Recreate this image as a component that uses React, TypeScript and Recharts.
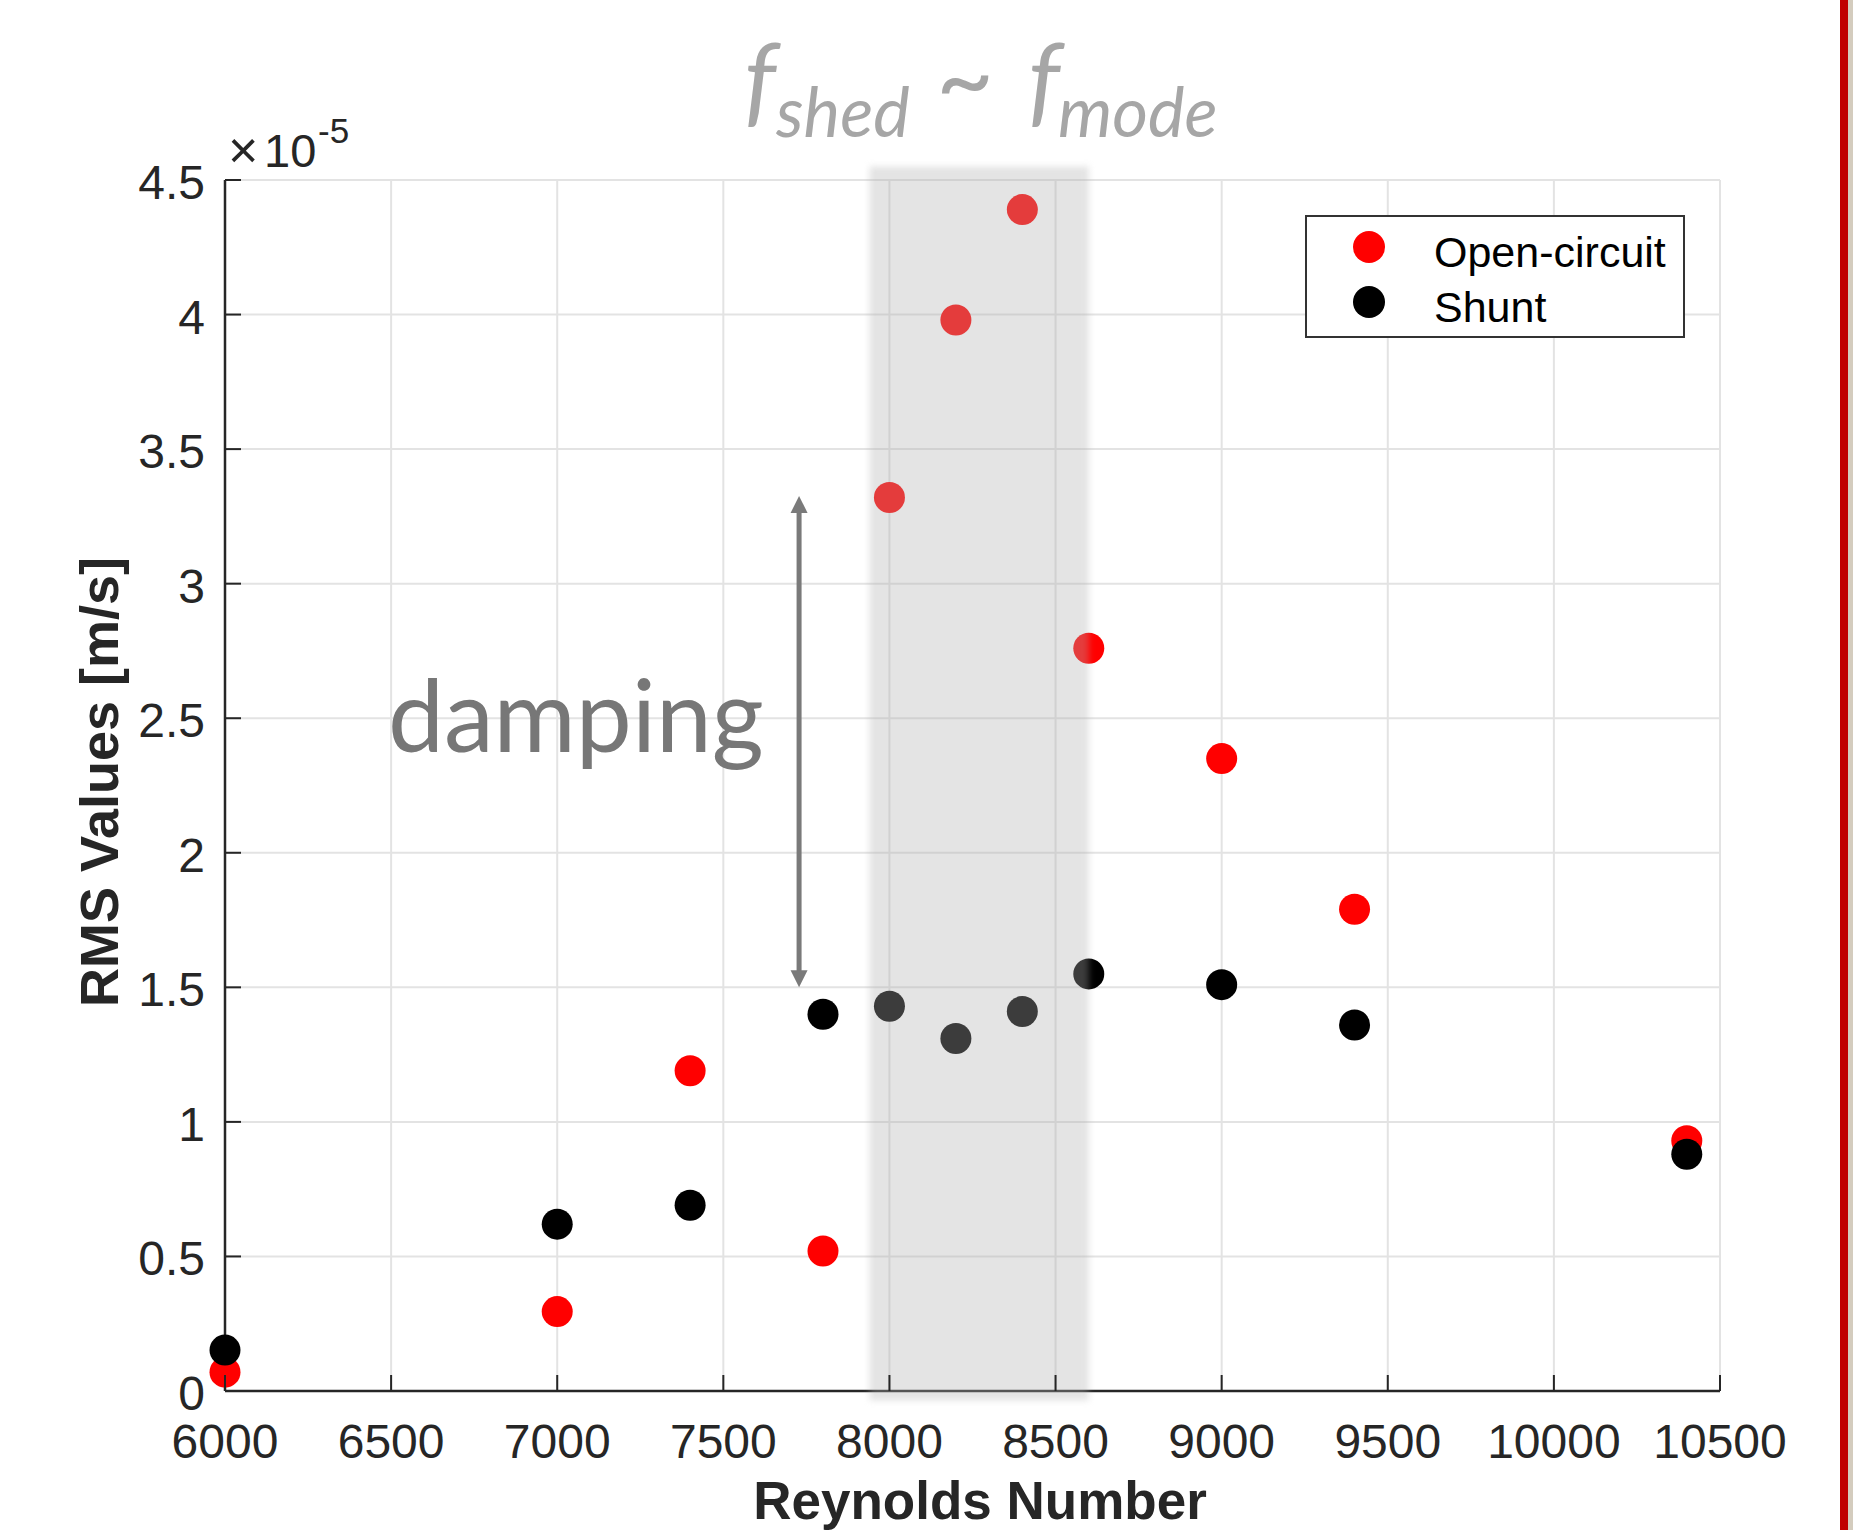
import React from "react";
import {
  ScatterChart,
  Scatter,
  XAxis,
  YAxis,
  CartesianGrid,
  ReferenceArea,
  ReferenceLine,
  ReferenceDot,
  Legend,
  Customized,
} from "recharts";

// Reynolds numbers of the measurements
const reynolds = [6000, 7000, 7400, 7800, 8000, 8200, 8400, 8600, 9000, 9400, 10400];
// RMS values in units of 1e-5 m/s
const openCircuit = [0.07, 0.295, 1.19, 0.52, 3.32, 3.98, 4.39, 2.76, 2.35, 1.79, 0.93];
const shunt = [0.152, 0.62, 0.69, 1.4, 1.43, 1.31, 1.41, 1.55, 1.51, 1.36, 0.88];

const xTicks = [6000, 6500, 7000, 7500, 8000, 8500, 9000, 9500, 10000, 10500];
const yTicks = [0, 0.5, 1, 1.5, 2, 2.5, 3, 3.5, 4, 4.5];

// annotation anchors (data units)
const bandRange = [7940, 8600];
const arrowX = 7728;
const arrowRange = [1.5, 3.326];
const dampingAnchor = { x: 7056, y: 2.375 };

const openData = reynolds.map((x, i) => ({ x, y: openCircuit[i] }));
const shuntData = reynolds.map((x, i) => ({ x, y: shunt[i] }));

const AXIS = "#262626";
const TICK_FONT = "'Liberation Sans', Arial, Helvetica, sans-serif";
const R = 15.5;

const YTick = (props: any) => {
  const { x, y, payload } = props;
  return (
    <g>
      <line x1={x} x2={x + 16} y1={y} y2={y} stroke={AXIS} strokeWidth={2} />
      <text x={x - 20} y={y + 19} textAnchor="end" fontFamily={TICK_FONT} fontSize={48} fill={AXIS}>
        {String(payload.value)}
      </text>
    </g>
  );
};

const XTick = (props: any) => {
  const { x, y, payload } = props;
  return (
    <g>
      <line x1={x} x2={x} y1={y} y2={y - 16} stroke={AXIS} strokeWidth={2} />
      <text x={x} y={y + 67} textAnchor="middle" fontFamily={TICK_FONT} fontSize={48} fill={AXIS}>
        {String(payload.value)}
      </text>
    </g>
  );
};

const redDot = (p: any) => <circle cx={p.cx} cy={p.cy} r={R} fill="#ff0000" />;
const blackDot = (p: any) => <circle cx={p.cx} cy={p.cy} r={R} fill="#000000" />;

const Band = (p: any) => (
  <rect
    x={p.x}
    y={p.y}
    width={p.width}
    height={p.height}
    fill="#b0b0b0"
    fillOpacity={0.34}
    style={{ filter: "blur(3px)" }}
  />
);

const Arrow = (p: any) => {
  const { x1, y1, x2, y2 } = p;
  const top = Math.min(y1, y2);
  const bot = Math.max(y1, y2);
  const x = x1;
  const c = "#7a7a7a";
  return (
    <g>
      <line x1={x} x2={x} y1={top + 14} y2={bot - 14} stroke={c} strokeWidth={5} />
      <polygon points={`${x},${top} ${x - 8.5},${top + 17} ${x + 8.5},${top + 17}`} fill={c} />
      <polygon points={`${x},${bot} ${x - 8.5},${bot - 17} ${x + 8.5},${bot - 17}`} fill={c} />
    </g>
  );
};

const DampingText = (p: any) => (
  <text
    x={p.cx}
    y={p.cy}
    textAnchor="middle"
    fontFamily="Lato, 'Open Sans', sans-serif"
    fontSize={100}
    fill="#777777"
  >
    damping
  </text>
);

const Decorations = () => (
  <g>
    {/* title */}
    <text fontFamily="Lato, 'Open Sans', sans-serif" fill="#a6a6a6" fontStyle="italic">
      <tspan x={744} y={115} fontSize={100}>f</tspan>
      <tspan x={776} y={137} fontSize={69}>shed</tspan>
      <tspan x={936} y={115} fontSize={100} fontStyle="normal">~</tspan>
      <tspan x={1028} y={115} fontSize={100}>f</tspan>
      <tspan x={1058} y={137} fontSize={69}>mode</tspan>
    </text>
    {/* exponent */}
    <text fontFamily={TICK_FONT} fill={AXIS}>
      <tspan x={228} y={168} fontSize={52} fontWeight={300}>×</tspan>
      <tspan x={264} y={167} fontSize={47}>10</tspan>
      <tspan x={318} y={143} fontSize={35}>-5</tspan>
    </text>
    {/* axis labels */}
    <text x={980} y={1519} textAnchor="middle" fontFamily={TICK_FONT} fontWeight="bold" fontSize={53} fill={AXIS}>
      Reynolds Number
    </text>
    <text
      x={118}
      y={782}
      transform="rotate(-90 118 782)"
      textAnchor="middle"
      fontFamily={TICK_FONT}
      fontWeight="bold"
      fontSize={54}
      fill={AXIS}
    >
      RMS Values [m/s]
    </text>
  </g>
);

const LegendBox = () => (
  <div
    style={{
      width: 380,
      height: 123,
      boxSizing: "border-box",
      border: "2px solid #333",
      background: "#fff",
    }}
  >
    <svg width={376} height={119}>
      <circle cx={62} cy={30} r={16} fill="#ff0000" />
      <text x={127} y={50} fontFamily={TICK_FONT} fontSize={43} fill="#000">Open-circuit</text>
      <circle cx={62} cy={85} r={16} fill="#000" />
      <text x={127} y={105} fontFamily={TICK_FONT} fontSize={43} fill="#000">Shunt</text>
    </svg>
  </div>
);

export default function App() {
  return (
    <div style={{ position: "absolute", left: 0, top: 0, width: 1853, height: 1530, background: "#fff" }}>
      <div style={{ position: "absolute", left: 1840, top: 0, width: 8, height: 1530, background: "#c00000" }} />
      <div style={{ position: "absolute", left: 1848, top: 0, width: 5, height: 1530, background: "#d4ccbe" }} />
      <ScatterChart width={1853} height={1530} margin={{ top: 180, right: 133, bottom: 138, left: 224 }}>
        <CartesianGrid stroke="#e3e3e3" strokeWidth={2} />
        <XAxis
          type="number"
          dataKey="x"
          domain={[6000, 10500]}
          ticks={xTicks}
          interval={0}
          height={1}
          tickSize={0}
          tickMargin={0}
          tickLine={false}
          axisLine={{ stroke: AXIS, strokeWidth: 2.5 }}
          tick={<XTick />}
        />
        <YAxis
          type="number"
          dataKey="y"
          domain={[0, 4.5]}
          ticks={yTicks}
          interval={0}
          width={1}
          tickSize={0}
          tickMargin={0}
          tickLine={false}
          axisLine={{ stroke: AXIS, strokeWidth: 2.5 }}
          tick={<YTick />}
        />
        <Legend
          layout="horizontal"
          verticalAlign="middle"
          align="center"
          wrapperStyle={{ position: "absolute", left: 1305, top: 215, width: 380, height: 123 }}
          content={() => <LegendBox />}
        />
        <Scatter name="Open-circuit" data={openData} fill="#ff0000" shape={redDot} isAnimationActive={false} />
        <Scatter name="Shunt" data={shuntData} fill="#000000" shape={blackDot} isAnimationActive={false} />
        <ReferenceArea
          x1={bandRange[0]}
          x2={bandRange[1]}
          y1={-0.035}
          y2={4.55}
          ifOverflow="visible"
          shape={Band}
          zIndex={1000}
        />
        <ReferenceLine
          segment={[
            { x: arrowX, y: arrowRange[0] },
            { x: arrowX, y: arrowRange[1] },
          ]}
          ifOverflow="visible"
          shape={Arrow}
        />
        <ReferenceDot x={dampingAnchor.x} y={dampingAnchor.y} r={0} ifOverflow="visible" shape={DampingText} />
        <Customized component={Decorations} />
      </ScatterChart>
    </div>
  );
}
